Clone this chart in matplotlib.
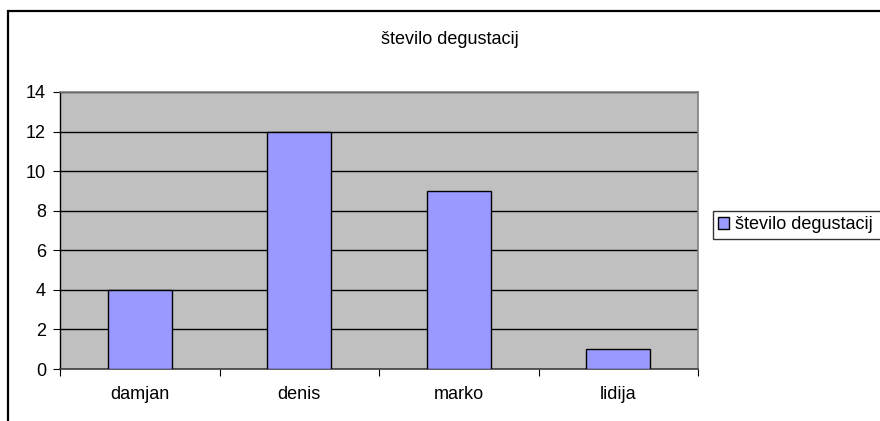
import matplotlib
matplotlib.use("Agg")
import matplotlib.pyplot as plt
from matplotlib.patches import Rectangle

plt.rcParams['font.family'] = ['Liberation Sans', 'DejaVu Sans']

names = ["damjan", "denis", "marko", "lidija"]
counts = [4, 12, 9, 1]
series_name = "število degustacij"

W, H = 880, 421
fig = plt.figure(figsize=(W / 100, H / 100), dpi=100)

# outer chart border (runs off the right and bottom edges)
fig.patches.append(Rectangle((8 / W, -0.1), 1.2, 1 - 11 / H + 0.1,
                             transform=fig.transFigure, fill=False,
                             edgecolor="black", linewidth=1.6))

ax = fig.add_axes([60 / W, 1 - 369 / H, (698 - 60) / W, (369 - 92) / H])
ax.set_facecolor("#C0C0C0")

x = range(len(names))
bars = ax.bar(x, counts, width=0.4, color="#9999FF", edgecolor="black",
              linewidth=1.0, label=series_name, zorder=3)

ax.set_xlim(-0.5, len(names) - 0.5)
ax.set_ylim(0, 14)
ax.set_yticks(range(0, 15, 2))
ax.yaxis.grid(True, color="black", linewidth=1.0, zorder=1)
ax.set_axisbelow(True)

ax.set_xticks([i - 0.5 for i in range(len(names) + 1)])
ax.set_xticklabels([])
ax.set_xticks(list(x), minor=True)
ax.set_xticklabels(names, minor=True)
ax.tick_params(axis="x", which="minor", length=0, pad=12, labelsize=13)
ax.tick_params(axis="x", which="major", direction="out", length=5, width=0.8)
ax.tick_params(axis="y", direction="out", length=5, width=0.8, labelsize=13, pad=5)

for side in ["top", "right"]:
    ax.spines[side].set_color("#808080")
    ax.spines[side].set_linewidth(1.2)
ax.spines["left"].set_color("black")
ax.spines["bottom"].set_color("#404040")
ax.spines["left"].set_linewidth(1.0)
ax.spines["bottom"].set_linewidth(1.2)

fig.text(450 / W, 1 - 39 / H, series_name, ha="center", va="center", fontsize=13)

# legend box runs past the right edge, as in the original
leg = fig.legend(handles=[bars], labels=[series_name], loc="upper left",
                 bbox_to_anchor=(713 / W, 1 - 215 / H, 200 / W, 0.01),
                 mode="expand", fontsize=13,
                 frameon=True, fancybox=False, borderpad=0.3,
                 handlelength=0.6, handleheight=0.6, handletextpad=0.3,
                 borderaxespad=0)
leg.get_frame().set_edgecolor("black")
leg.get_frame().set_linewidth(1.0)

fig.savefig("out.png", dpi=100)
